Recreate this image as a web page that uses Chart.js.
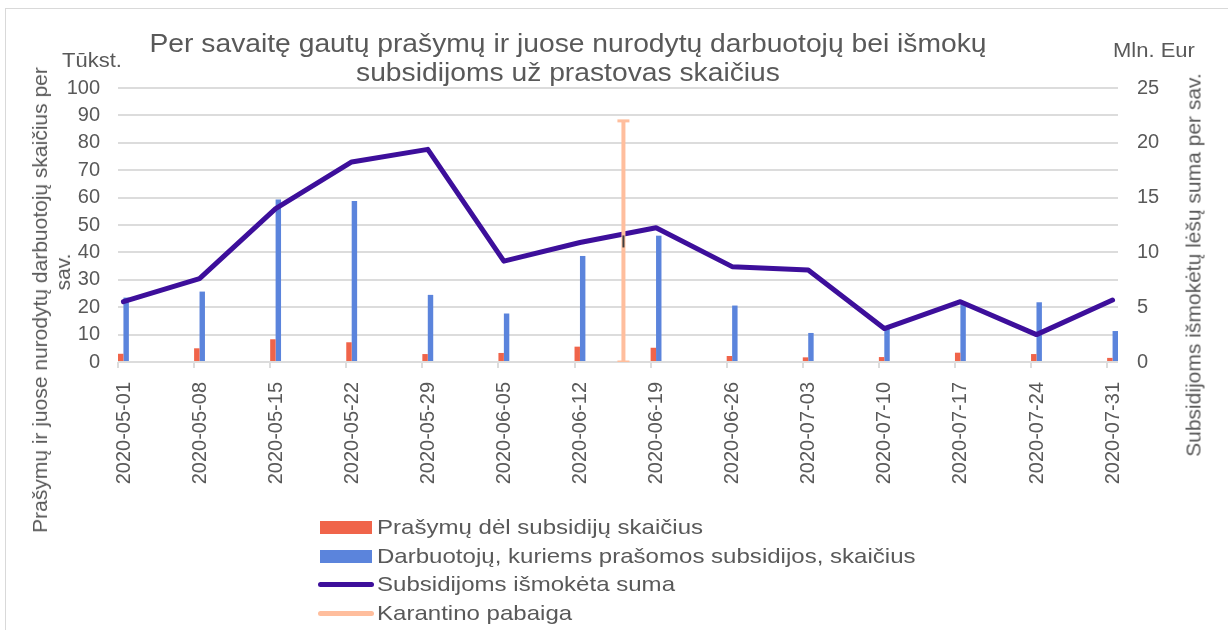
<!DOCTYPE html>
<html lang="lt">
<head>
<meta charset="utf-8">
<title>Subsidijos už prastovas</title>
<script src="https://cdn.jsdelivr.net/npm/chart.js@4.4.1/dist/chart.umd.min.js"></script>
<style>
  html, body { margin: 0; padding: 0; background: #fff; }
  #wrap {
    position: relative; width: 1228px; height: 630px; overflow: hidden;
    font-family: 'Liberation Sans', Arial, sans-serif; color: #595959;
  }
  #frame {
    position: absolute; left: 5px; top: 8px; width: 1300px; height: 700px;
    border: 1px solid #d9d9d9;
  }
  #chart { position: absolute; left: 0; top: 0; }
  .txt { position: absolute; white-space: nowrap; }
  .wide { transform-origin: 0 50%; transform: scaleX(1.1); }
  #title {
    left: 568px; top: 29px; font-size: 25px; line-height: 29px; text-align: center;
    transform: translateX(-50%) scaleX(1.13);
  }
  .unit { font-size: 20px; line-height: 24px; }
  .vt {
    text-align: center; font-size: 21px; line-height: 23px;
    transform: translate(-50%, -50%) rotate(-90deg);
  }
  #legend { position: absolute; left: 320px; top: 513px; }
  .lg-row { position: relative; height: 28.5px; }
  .lg-sw  { position: absolute; }
  .lg-txt {
    position: absolute; left: 57px; top: 0; font-size: 21px; line-height: 28.5px;
    white-space: nowrap; transform-origin: 0 50%; transform: scaleX(1.145);
  }
</style>
</head>
<body>
<div id="wrap">
  <div id="frame"></div>
  <canvas id="chart" width="1228" height="630"></canvas>

  <div id="title" class="txt">Per savaitę gautų prašymų ir juose nurodytų darbuotojų bei išmokų<br>subsidijoms už prastovas skaičius</div>
  <div class="txt unit wide" style="left:62px; top:48px;">Tūkst.</div>
  <div class="txt unit wide" style="left:1113px; top:38px;">Mln. Eur</div>

  <div class="txt vt" style="left:51px; top:300px;">Prašymų ir juose nurodytų darbuotojų skaičius per<br><span style="position:relative; left:28px;">sav.</span></div>
  <div class="txt vt" style="left:1193px; top:265px;">Subsidijoms išmokėtų lėšų suma per sav.</div>

  <div id="legend"></div>
</div>

<script>
// ── Data ─────────────────────────────────────────────────
const dates = [
  '2020-05-01', '2020-05-08', '2020-05-15', '2020-05-22', '2020-05-29',
  '2020-06-05', '2020-06-12', '2020-06-19', '2020-06-26', '2020-07-03',
  '2020-07-10', '2020-07-17', '2020-07-24', '2020-07-31',
];
// thousands per week (left axis)
const requests  = [3.0, 5.0, 8.3, 7.2, 2.9, 3.3, 5.6, 5.2, 2.2, 1.7, 1.8, 3.4, 2.9, 1.5];
const employees = [23.5, 25.7, 59.3, 58.8, 24.5, 17.7, 38.7, 46.1, 20.6, 10.6, 12.2, 21.5, 21.8, 11.3];
// million EUR per week (right axis)
const paid      = [5.5, 7.6, 14.0, 18.25, 19.4, 9.2, 10.9, 12.25, 8.7, 8.4, 3.05, 5.5, 2.5, 5.65];

// end of quarantine marker: low / marker / high on the left axis
const quarantineDate = '2020-06-16';
const quarantineBar  = [0, 44, 88];

const leftTicks  = [0, 10, 20, 30, 40, 50, 60, 70, 80, 90, 100];
const rightTicks = [0, 5, 10, 15, 20, 25];

const SERIES_NAMES = [
  'Prašymų dėl subsidijų skaičius',
  'Darbuotojų, kuriems prašomos subsidijos, skaičius',
  'Subsidijoms išmokėta suma',
  'Karantino pabaiga',
];

// ── Colours ──────────────────────────────────────────────
const COLORS = {
  requests:  '#f0644a',
  employees: '#5b84dc',
  paid:      '#3d0f9b',
  quarantine:'#ffbe9d',
  grid:      '#dcdcdc',
  text:      '#595959',
};

// ── Date axis helpers (one slot per day, like a date axis) ─
const DAY = 864e5;
const dayOf = d => (Date.parse(d) - Date.parse(dates[0])) / DAY;
const dayTicks  = dates.map(dayOf);
const totalDays = dayOf(dates[dates.length - 1]) + 1;
const weekStep  = dayTicks[1] - dayTicks[0];
const slot = d => dayOf(d) + 0.5;   // centre of the day slot

Chart.defaults.color = COLORS.text;
Chart.defaults.font.family = "'Liberation Sans', Arial, sans-serif";

const datasets = [
  {
    type: 'bar',
    label: SERIES_NAMES[0],
    data: dates.map((d, i) => ({ x: slot(d), y: requests[i] })),
    backgroundColor: COLORS.requests,
    yAxisID: 'y',
    order: 2,
    barPercentage: 1,
    categoryPercentage: 1 / weekStep,
  },
  {
    type: 'bar',
    label: SERIES_NAMES[1],
    data: dates.map((d, i) => ({ x: slot(d), y: employees[i] })),
    backgroundColor: COLORS.employees,
    yAxisID: 'y',
    order: 2,
    barPercentage: 1,
    categoryPercentage: 1 / weekStep,
  },
  {
    type: 'line',
    label: SERIES_NAMES[2],
    data: dates.map((d, i) => ({ x: slot(d), y: paid[i] })),
    borderColor: COLORS.paid,
    backgroundColor: COLORS.paid,
    borderWidth: 5,
    borderJoinStyle: 'round',
    borderCapStyle: 'round',
    pointRadius: 0,
    tension: 0,
    yAxisID: 'y1',
    order: 1,
  },
  {
    type: 'line',
    label: SERIES_NAMES[3],
    data: quarantineBar.map(v => ({ x: slot(quarantineDate), y: v })),
    borderColor: COLORS.quarantine,
    borderWidth: 4,
    pointStyle: 'line',
    pointRadius: 6,
    pointRotation: [0, 90, 0],
    pointBorderColor: [COLORS.quarantine, '#404040', COLORS.quarantine],
    pointBorderWidth: [3, 2, 3],
    yAxisID: 'y',
    order: 0,
  },
];

new Chart(document.getElementById('chart'), {
  type: 'bar',
  data: { datasets },
  options: {
    responsive: false,
    animation: false,
    layout: { padding: { top: 88, bottom: 128, left: 0, right: 0 } },
    plugins: {
      legend: { display: false },   // legend is HTML below
      title: { display: false },
      tooltip: { enabled: false },
    },
    scales: {
      x: {
        type: 'linear',
        min: 0,
        max: totalDays,
        offset: false,
        afterBuildTicks: s => { s.ticks = dayTicks.map(v => ({ value: v })); },
        afterFit: s => { s.height = 140; },
        ticks: {
          autoSkip: false,
          minRotation: 90,
          maxRotation: 90,
          labelOffset: 6,
          padding: 14,
          color: COLORS.text,
          font: { size: 20 },
          callback: v => dates[dayTicks.indexOf(v)],
        },
        grid: {
          offset: false,
          drawOnChartArea: false,
          drawTicks: true,
          tickLength: 6,
          color: COLORS.grid,
          lineWidth: 2,
        },
        border: { display: false },
      },
      y: {
        position: 'left',
        min: 0,
        max: 100,
        afterBuildTicks: s => { s.ticks = leftTicks.map(v => ({ value: v })); },
        afterFit: s => { s.width = 118; },
        ticks: { padding: 18, color: COLORS.text, font: { size: 20 } },
        grid: { color: COLORS.grid, lineWidth: 2, drawTicks: false },
        border: { display: false },
      },
      y1: {
        position: 'right',
        min: 0,
        max: 25,
        afterBuildTicks: s => { s.ticks = rightTicks.map(v => ({ value: v })); },
        afterFit: s => { s.width = 110; },
        ticks: { padding: 19, color: COLORS.text, font: { size: 20 } },
        grid: { display: false, drawTicks: false },
        border: { display: false },
      },
    },
  },
});

// ── HTML legend ──────────────────────────────────────────
const swatches = [
  { color: COLORS.requests,   kind: 'box' },
  { color: COLORS.employees,  kind: 'box' },
  { color: COLORS.paid,       kind: 'line' },
  { color: COLORS.quarantine, kind: 'line' },
];
document.getElementById('legend').innerHTML = SERIES_NAMES.map((name, i) => {
  const sw = swatches[i];
  const style = sw.kind === 'box'
    ? `left:0; top:8px; width:52px; height:13px; background:${sw.color};`
    : `left:-2px; top:12px; width:56px; height:5px; border-radius:3px; background:${sw.color};`;
  return `<div class="lg-row"><div class="lg-sw" style="${style}"></div><div class="lg-txt">${name}</div></div>`;
}).join('');
</script>
</body>
</html>
